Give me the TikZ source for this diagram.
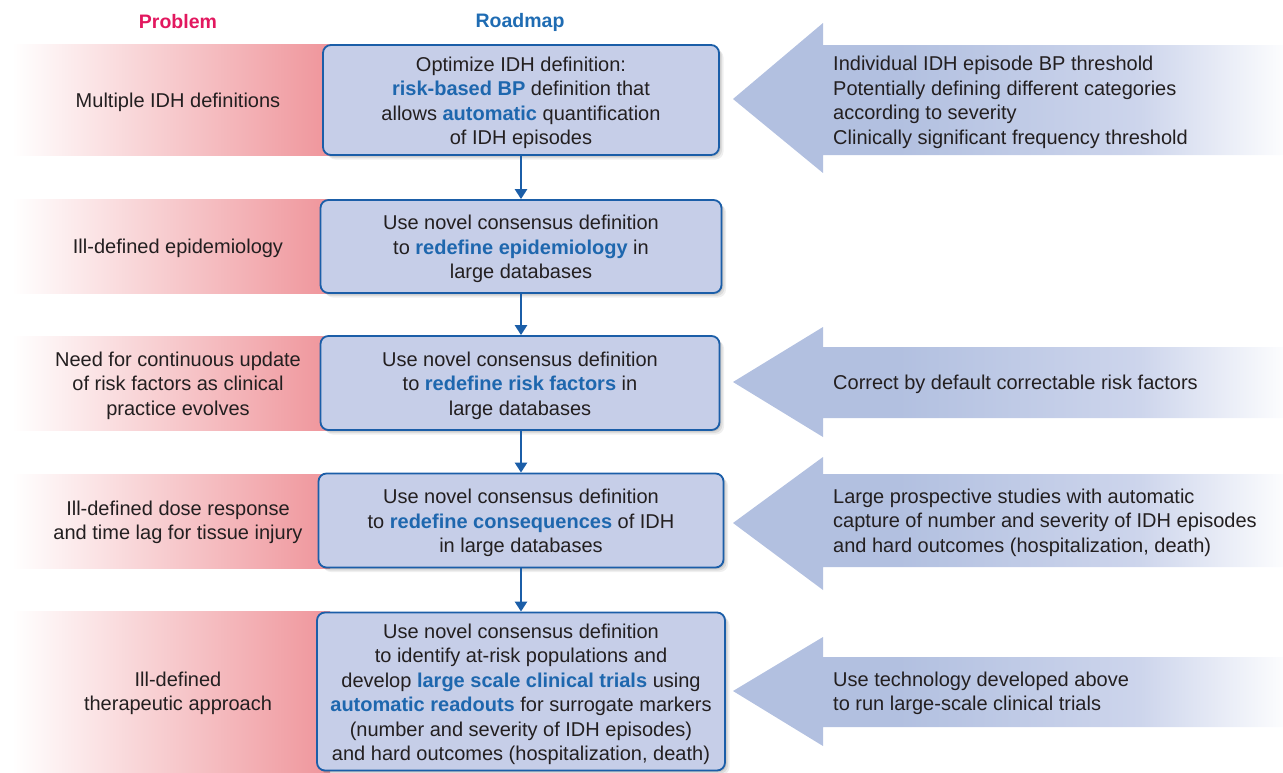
\documentclass[tikz,border=0pt]{standalone}
\usepackage{fontspec}
\setmainfont{Liberation Sans}
\usetikzlibrary{arrows.meta,shadows}
\definecolor{txt}{HTML}{231F20}
\definecolor{kwblue}{HTML}{1E67AE}
\definecolor{boxfill}{HTML}{C6CEE8}
\definecolor{boxline}{HTML}{1B5EA8}
\definecolor{pinkband}{HTML}{EF959B}
\definecolor{arrowblue}{HTML}{B2C0E0}
\definecolor{arrowmid}{HTML}{CDD5EC}
\definecolor{probcol}{HTML}{E2185F}
\definecolor{roadcol}{HTML}{1F6CB3}
\newcommand{\kw}[1]{\textbf{\color{kwblue}#1}}
\newcommand{\bxt}[1]{\raisebox{-3pt}[\height][\depth]{\begin{tabular}{@{}c@{}}#1\end{tabular}}}
\pgfdeclarehorizontalshading{bluefade}{100bp}{color(0bp)=(arrowblue); color(25bp)=(arrowblue); color(40bp)=(arrowblue); color(62bp)=(arrowmid); color(75bp)=(white!96!arrowblue); color(100bp)=(white!96!arrowblue)}
\tikzset{
  basefont/.style={font=\fontsize{20}{24.5}\selectfont, text=txt},
  header/.style={font=\fontsize{19.5}{23}\selectfont\bfseries},
  band/.style={left color=white, right color=pinkband, draw=none},
  bandtext/.style={basefont, align=center, yshift=-2.5pt},
  rbox/.style={basefont, align=center, draw=boxline, line width=1.8pt, fill=boxfill,
    rounded corners=8pt, inner sep=0pt,
    drop shadow={shadow xshift=1.5pt, shadow yshift=-1.5pt, opacity=.18, fill=black!60},
    drop shadow={shadow xshift=3pt, shadow yshift=-3pt, opacity=.14, fill=black!60},
    drop shadow={shadow xshift=4.5pt, shadow yshift=-4.5pt, opacity=.10, fill=black!60}},
  bigarrow/.style={shading=bluefade, draw=none},
  sidetext/.style={basefont, align=left, anchor=west, inner sep=0pt, yshift=-2.5pt},
  flow/.style={draw=boxline, line width=2.6pt, -{Triangle[length=10pt,width=12pt]}}
}
\begin{document}
\begin{tikzpicture}[x=1pt,y=-1pt]
\useasboundingbox (0,0) rectangle (1283,772);

% headers
\node[header, text=probcol] (hprob) at (178,22) {Problem};
\node[header, text=roadcol] (hroad) at (520,22) {Roadmap};

% pink bands
\shade[band] (12,44) rectangle (330,155);
\shade[band] (12,199) rectangle (330,293);
\shade[band] (12,336) rectangle (330,430);
\shade[band] (12,474) rectangle (330,568);
\shade[band] (12,611) rectangle (330,772);

\node[bandtext] (p1) at (178,100) {Multiple IDH definitions};
\node[bandtext] (p2) at (178,246) {Ill-defined epidemiology};
\node[bandtext] (p3) at (178,383) {Need for continuous update\\of risk factors as clinical\\practice evolves};
\node[bandtext] (p4) at (178,520) {Ill-defined dose response\\and time lag for tissue injury};
\node[bandtext] (p5) at (178,691) {Ill-defined\\therapeutic approach};

% right arrows
\shade[bigarrow] (733,99) -- (823,23) -- (823,45) -- (1283,45) -- (1283,155) -- (823,155) -- (823,173) -- cycle;
\shade[bigarrow] (733,382) -- (823,327) -- (823,347) -- (1283,347) -- (1283,418) -- (823,418) -- (823,437) -- cycle;
\shade[bigarrow] (733,523) -- (823,457) -- (823,474) -- (1283,474) -- (1283,567) -- (823,567) -- (823,590) -- cycle;
\shade[bigarrow] (733,691) -- (823,637) -- (823,657) -- (1283,657) -- (1283,727) -- (823,727) -- (823,746) -- cycle;

\node[sidetext] (r1) at (833,100) {Individual IDH episode BP threshold\\Potentially defining different categories\\according to severity\\Clinically significant frequency threshold};
\node[sidetext] (r3) at (833,382) {Correct by default correctable risk factors};
\node[sidetext] (r4) at (833,520) {Large prospective studies with automatic\\capture of number and severity of IDH episodes\\and hard outcomes (hospitalization, death)};
\node[sidetext] (r5) at (833,691) {Use technology developed above\\to run large-scale clinical trials};

% roadmap boxes
\node[rbox, minimum width=396pt, minimum height=110pt] (b1) at (521,100) {\bxt{Optimize IDH definition:\\\kw{risk-based BP} definition that\\allows \kw{automatic} quantification\\of IDH episodes}};
\node[rbox, minimum width=401pt, minimum height=93pt] (b2) at (521,246.5) {\bxt{Use novel consensus definition\\to \kw{redefine epidemiology} in\\large databases}};
\node[rbox, minimum width=399pt, minimum height=94pt] (b3) at (520,383) {\bxt{Use novel consensus definition\\to \kw{redefine risk factors} in\\large databases}};
\node[rbox, minimum width=405pt, minimum height=94pt] (b4) at (521,520.5) {\bxt{Use novel consensus definition\\to \kw{redefine consequences} of IDH\\in large databases}};
\node[rbox, minimum width=408pt, minimum height=158pt] (b5) at (521,691.5) {\bxt{Use novel consensus definition\\to identify at-risk populations and\\develop \kw{large scale clinical trials} using\\\kw{automatic readouts} for surrogate markers\\(number and severity of IDH episodes)\\and hard outcomes (hospitalization, death)}};

% connectors
\draw[flow] (b1.south) -- (b1.south |- b2.north);
\draw[flow] (b2.south -| b1.south) -- (b1.south |- b3.north);
\draw[flow] (b3.south -| b1.south) -- (b1.south |- b4.north);
\draw[flow] (b4.south -| b1.south) -- (b1.south |- b5.north);
\end{tikzpicture}
\end{document}
